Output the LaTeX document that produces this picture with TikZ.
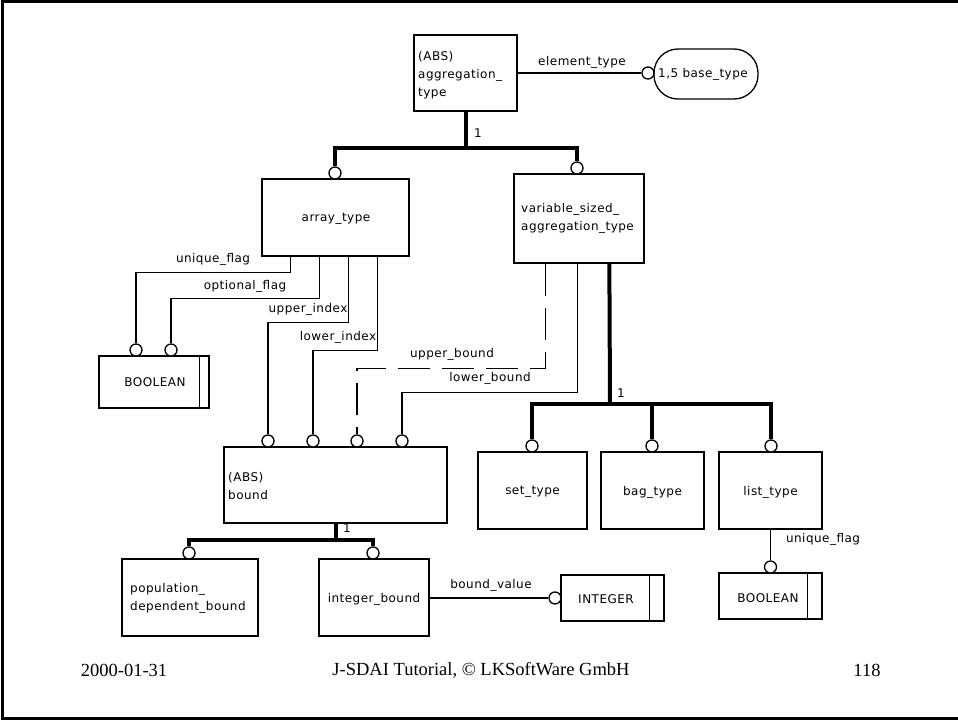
\documentclass[tikz,border=0pt]{standalone}
\usepackage{fontspec}
\setmainfont{Liberation Serif}
\newfontfamily\diagfont[LetterSpace=4]{DejaVu Sans}
\begin{document}
\begin{tikzpicture}[x=1pt,y=-1pt,
  box/.style={draw, line width=1.3pt, inner sep=0pt},
  lbl/.style={inner sep=0pt, font=\diagfont\fontsize{12}{18}\selectfont},
  ring/.style={draw, circle, fill=white, line width=1.3pt, minimum size=12pt, inner sep=0pt},
  rel/.style={line width=1.3pt},
  subrel/.style={line width=4pt},
  optrel/.style={line width=1.3pt, dash pattern=on 32pt off 12pt},
  foot/.style={inner sep=0pt, font=\fontsize{18.5}{20}\selectfont}
]
\useasboundingbox (0,0) rectangle (958,720);

% page frame (open to the right)
\draw[line width=3pt] (958,1.5) -- (2,1.5) -- (2,718.5) -- (958,718.5);

% ---------- entities ----------
\node[box, minimum width=103pt, minimum height=76pt] (agg) at (465.5,73) {};
\node[lbl, anchor=west, align=left] (aggText) at (418,75) {(ABS)\\aggregation\_\\type};

\node[box, rounded corners=24pt, minimum width=104pt, minimum height=50pt] (base) at (706,74) {};
\node[lbl, anchor=west] (baseText) at (658,74) {1,5 base\_type};

\node[box, minimum width=147pt, minimum height=77pt] (arr) at (335.5,217.5) {};
\node[lbl] (arrText) at (336,219) {array\_type};

\node[box, minimum width=130pt, minimum height=89pt] (var) at (579,218.5) {};
\node[lbl, anchor=west, align=left] (varText) at (521,218.5) {variable\_sized\_\\aggregation\_type};

\node[box, minimum width=110pt, minimum height=52pt] (boolA) at (154,382) {};
\draw[rel] ([xshift=-10pt]boolA.north east) -- ([xshift=-10pt]boolA.south east);
\node[lbl] (boolAText) at (155,382) {BOOLEAN};

\node[box, minimum width=223pt, minimum height=76pt] (bound) at (335.5,485) {};
\node[lbl, anchor=west, align=left] (boundText) at (228,486) {(ABS)\\bound};

\node[box, minimum width=109pt, minimum height=77pt] (set) at (532.5,490.5) {};
\node[lbl] (setText) at (532.5,492) {set\_type};
\node[box, minimum width=103pt, minimum height=77pt] (bag) at (652.5,490.5) {};
\node[lbl] (bagText) at (652.5,492) {bag\_type};
\node[box, minimum width=103pt, minimum height=77pt] (list) at (770.5,490.5) {};
\node[lbl] (listText) at (770.5,492) {list\_type};

\node[box, minimum width=103pt, minimum height=46pt] (boolB) at (770.5,596) {};
\draw[rel] ([xshift=-15pt]boolB.north east) -- ([xshift=-15pt]boolB.south east);
\node[lbl] (boolBText) at (768,598) {BOOLEAN};

\node[box, minimum width=136pt, minimum height=77pt] (pop) at (190,597.5) {};
\node[lbl, anchor=west, align=left] (popText) at (130,598.5) {population\_\\dependent\_bound};

\node[box, minimum width=110pt, minimum height=77pt] (intb) at (374,597.5) {};
\node[lbl] (intbText) at (374,599) {integer\_bound};

\node[box, minimum width=103pt, minimum height=46pt] (int) at (612.5,598) {};
\draw[rel] ([xshift=-15pt]int.north east) -- ([xshift=-15pt]int.south east);
\node[lbl] (intText) at (606,599) {INTEGER};

% ---------- rings on the receiving ends ----------
\node[ring] (cBase) at (648,73) {};
\node[ring] (cArr) at (335,173) {};
\node[ring] (cVar) at (577,168) {};
\node[ring] (cUF) at (136,350) {};
\node[ring] (cOF) at (171,350) {};
\node[ring] (cUI) at (268,441) {};
\node[ring] (cLI) at (313,441) {};
\node[ring] (cUB) at (357,441) {};
\node[ring] (cLB) at (402,441) {};
\node[ring] (cSet) at (532,446) {};
\node[ring] (cBag) at (652,446) {};
\node[ring] (cList) at (771,446) {};
\node[ring] (cBoolB) at (770.5,567) {};
\node[ring] (cPop) at (189,553) {};
\node[ring] (cIntB) at (373,553) {};
\node[ring] (cInt) at (555,598) {};

% ---------- supertype trees ----------
\coordinate (j1) at (465.5,148);
\draw[subrel] (agg.south) -- (j1);
\draw[subrel] (cArr.north) |- (j1) -| (cVar.north);
\node[lbl] (one1) at (478,133) {1};

\coordinate (j2) at (610,404);
\draw[subrel] ([xshift=96pt]var.south west) -- (j2);
\draw[subrel] (cSet.north) |- (j2) -| (cList.north);
\draw[subrel] (cBag.north) -- (cBag.north |- j2);
\node[lbl] (one2) at (621,393) {1};

\coordinate (j3) at (335.5,540);
\draw[subrel] (bound.south) -- (j3);
\draw[subrel] (cPop.north) |- (j3) -| (cIntB.north);
\node[lbl] (one3) at (347,528) {1};

% ---------- attributes ----------
\draw[rel] (agg.east |- cBase) -- (cBase.west);
\node[lbl] (lElem) at (582,62) {element\_type};

\draw[rel] ([xshift=29pt]arr.south west) -- ++(0,16) -| (cUF.north);
\node[lbl] (lUF) at (213,259) {unique\_flag};
\draw[rel] ([xshift=58pt]arr.south west) -- ++(0,42) -| (cOF.north);
\node[lbl] (lOF) at (245,286) {optional\_flag};
\draw[rel] ([xshift=87pt]arr.south west) -- ++(0,66) -| (cUI.north);
\node[lbl] (lUI) at (308,309) {upper\_index};
\draw[rel] ([xshift=116pt]arr.south west) -- ++(0,94) -| (cLI.north);
\node[lbl] (lLI) at (338,337) {lower\_index};

\draw[optrel] ([xshift=32pt]var.south west) -- ++(0,105) -| (cUB.north);
\node[lbl] (lUB) at (452,354) {upper\_bound};
\draw[rel] ([xshift=64pt]var.south west) -- ++(0,129) -| (cLB.north);
\node[lbl] (lLB) at (490,378) {lower\_bound};

\draw[rel] (list.south) -- (cBoolB.north);
\node[lbl] (lUF2) at (823,539) {unique\_flag};

\draw[rel] (intb.east |- cInt) -- (cInt.west);
\node[lbl] (lBV) at (491,585) {bound\_value};

% ---------- footer ----------
\node[foot] (date) at (124,670) {2000-01-31};
\node[foot] (title) at (481,670) {J-SDAI Tutorial, © LKSoftWare GmbH};
\node[foot] (page) at (867,670) {118};
\end{tikzpicture}
\end{document}
